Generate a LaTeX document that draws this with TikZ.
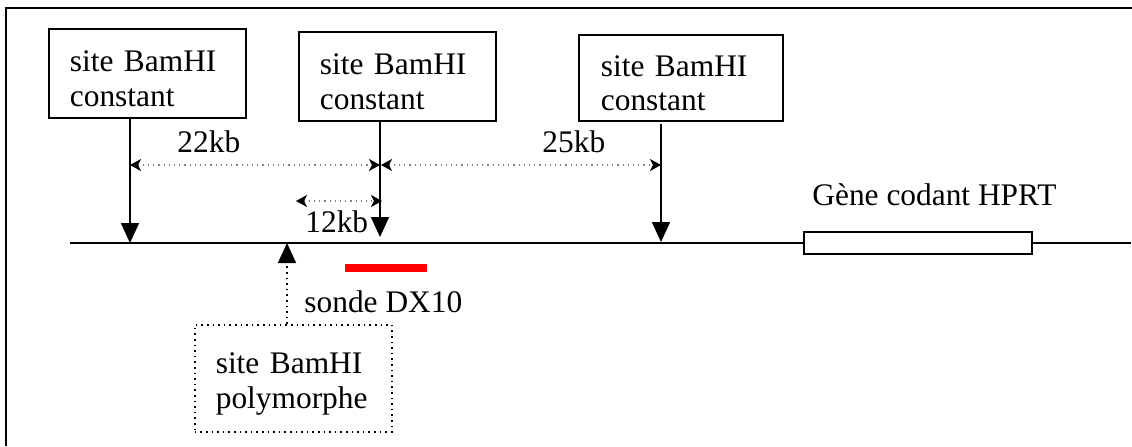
\documentclass[tikz,border=0pt]{standalone}
\usepackage{fontspec}
\setmainfont{Liberation Serif}
\usetikzlibrary{arrows.meta}
\newcommand{\topstrut}{\rule{0pt}{15.7pt}}
\begin{document}
\begin{tikzpicture}[x=0.5pt,y=-0.5pt,
  every node/.style={font=\fontsize{15.7pt}{17.6pt}\selectfont},
  sitebox/.style={draw,line width=0.9pt,rectangle,align=left,anchor=north west,inner xsep=10.5pt,inner ysep=0pt},
  sitearrow/.style={line width=0.8pt,-{Triangle[width=9pt,length=10pt]}},
  distarrow/.style={draw=gray,line width=0.6pt,dotted,{Stealth[black,width=6pt,length=5.5pt,inset=1.5pt]}-{Stealth[black,width=6pt,length=5.5pt,inset=1.5pt]}},
  lbl/.style={anchor=base west,inner sep=0pt}]
\useasboundingbox (0,0) rectangle (1132,446);
% frame
\draw[line width=1pt] (6,446) -- (6,8) -- (1132,8);
% main line
\coordinate (L0) at (70,243);
\coordinate (L1) at (1131,243);
\draw[line width=1pt] (L0) -- (L1);
% gene box
\node[draw,line width=0.9pt,fill=white,minimum width=114pt,minimum height=11pt,inner sep=0pt,anchor=north west] (gene) at (803,231) {};
\node[lbl] (genelbl) at (812,205) {Gène codant HPRT};
% site boxes
\node[sitebox,text width=77.5pt,minimum height=44.5pt] (b1) at (48,28) {\topstrut site BamHI\\constant};
\node[sitebox,text width=77.5pt,minimum height=44.5pt] (b2) at (298,31) {\topstrut site BamHI\\constant};
\node[sitebox,text width=80pt,minimum height=43pt,inner xsep=11pt] (b3) at (578,34) {\topstrut site BamHI\\[-1pt]constant};
% arrow ends
\coordinate (s1) at (130,243);
\coordinate (s2) at (380,237);
\coordinate (s3) at (661,242);
\coordinate (t1) at (130,117);
\coordinate (t2) at (380,120);
\coordinate (t3) at (661,124);
\draw[sitearrow] (t1) -- (s1);
\draw[sitearrow] (t2) -- (s2);
\draw[sitearrow] (t3) -- (s3);
% distance arrows
\coordinate (d1a) at (130,165);
\coordinate (d1b) at (380,165);
\coordinate (d2a) at (381,165);
\coordinate (d2b) at (661,165);
\coordinate (d3a) at (296,201);
\coordinate (d3b) at (382,201);
\draw[distarrow] (d1a) -- (d1b);
\draw[distarrow] (d2a) -- (d2b);
\draw[distarrow] (d3a) -- (d3b);
\node[lbl] (k22) at (177,152) {22kb};
\node[lbl] (k25) at (542,152) {25kb};
\node[lbl] (k12) at (305,232) {12kb};
% probe
\coordinate (p0) at (345,268);
\coordinate (p1) at (427,268);
\draw[red,line width=4pt] (p0) -- (p1);
\node[lbl] (sonde) at (304,312) {sonde DX10};
% polymorphic site
\node[draw,dotted,line width=0.8pt,rectangle,align=left,anchor=north west,inner xsep=10.5pt,inner ysep=0pt,text width=77.5pt,minimum height=53.5pt] (bp) at (194,324) {\topstrut site BamHI\\polymorphe};
\coordinate (sp) at (287,243);
\coordinate (spb) at (287,262);
\draw[line width=0.8pt,dotted] (bp.north -| sp) -- (spb);
\draw[line width=0.8pt,-{Triangle[width=9pt,length=10pt]}] (spb) -- (sp);
\end{tikzpicture}
\end{document}
